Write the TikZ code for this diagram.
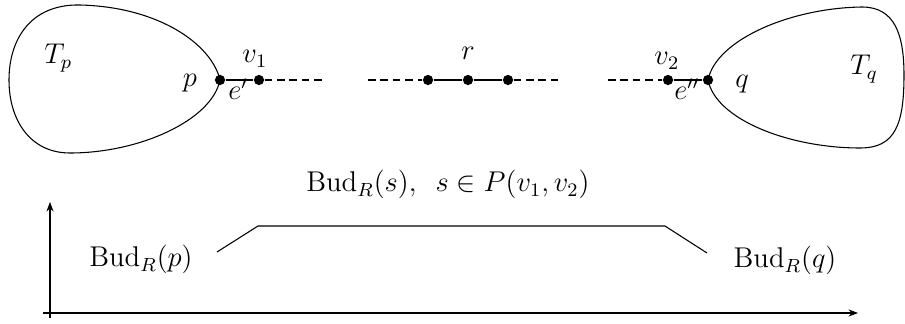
\documentclass[tikz,border=0pt]{standalone}
\usetikzlibrary{arrows.meta}
\begin{document}
\begin{tikzpicture}[x=0.42pt,y=-0.42pt,
  dot/.style={circle,fill=black,inner sep=0pt,minimum size=4.3pt},
  lbl/.style={inner sep=0pt,font=\fontsize{12}{14}\selectfont},
  thinline/.style={line width=0.45pt},
  dashline/.style={line width=0.45pt,dash pattern=on 3.2pt off 2pt},
  axis/.style={line width=0.45pt,-{Stealth[length=4pt,width=3pt]}}]
\useasboundingbox (0,0) rectangle (905,324);
% blobs
\draw[thinline] (220,80) .. controls (212,45) and (160,7) .. (80,5)
  .. controls (30,4) and (9,40) .. (9,80)
  .. controls (9,120) and (30,153) .. (70,153)
  .. controls (140,153) and (212,120) .. (220,80);
\draw[thinline] (708,80) .. controls (716,40) and (790,8) .. (862,7)
  .. controls (895,7) and (904,35) .. (904,75)
  .. controls (904,125) and (895,148) .. (860,148)
  .. controls (790,148) and (716,120) .. (708,80);
% dots
\node[dot] (p) at (220,80) {};
\node[dot] (v1) at (259,80) {};
\node[dot] (a) at (428,80) {};
\node[dot] (r) at (468,80) {};
\node[dot] (b) at (508,80) {};
\node[dot] (v2) at (668,80) {};
\node[dot] (q) at (708,80) {};
\coordinate (d1) at (322,80);
\coordinate (d2) at (368,80);
\coordinate (d3) at (562,80);
\coordinate (d4) at (608,80);
\draw[line width=0.6pt] (p) -- (v1);
\draw[line width=0.6pt] (v2) -- (q);
\draw[line width=0.6pt] (a) -- (r) -- (b);
\draw[dashline] (v1) -- (d1);
\draw[dashline] (d2) -- (a);
\draw[dashline] (b) -- (d3);
\draw[dashline] (d4) -- (v2);
% labels
\node[lbl,anchor=base west] (Tp) at (44,64) {$T_p$};
\node[lbl,anchor=base west] (Tq) at (850,75) {$T_q$};
\node[lbl,anchor=base] (lp) at (190,87) {$p$};
\node[lbl,anchor=base] (lq) at (742,88) {$q$};
\node[lbl,anchor=base west] (lv1) at (242,63) {$v_1$};
\node[lbl,anchor=base west] (lv2) at (654,65) {$v_2$};
\node[lbl,anchor=base] (lr) at (468,60) {$r$};
\node[lbl,anchor=base west] (le1) at (228,100) {$e'$};
\node[lbl,anchor=base west] (le2) at (674,100) {$e''$};
% graph
\coordinate (yb) at (50,318);
\coordinate (yt) at (50,202);
\coordinate (xl) at (43,313);
\coordinate (xr) at (858,313);
\draw[axis] (yb) -- (yt);
\draw[axis] (xl) -- (xr);
\coordinate (t1) at (217,252);
\coordinate (t2) at (258,226);
\coordinate (t3) at (665,226);
\coordinate (t4) at (707,253);
\draw[thinline] (t1) -- (t2) -- (t3) -- (t4);
\node[lbl,anchor=base] (bp) at (141,267) {$\mathrm{Bud}_R(p)$};
\node[lbl,anchor=base] (bq) at (785,268) {$\mathrm{Bud}_R(q)$};
\node[lbl,anchor=base] (bs) at (448,192) {$\mathrm{Bud}_R(s),\enspace s\in P(v_1,v_2)$};
\end{tikzpicture}
\end{document}
